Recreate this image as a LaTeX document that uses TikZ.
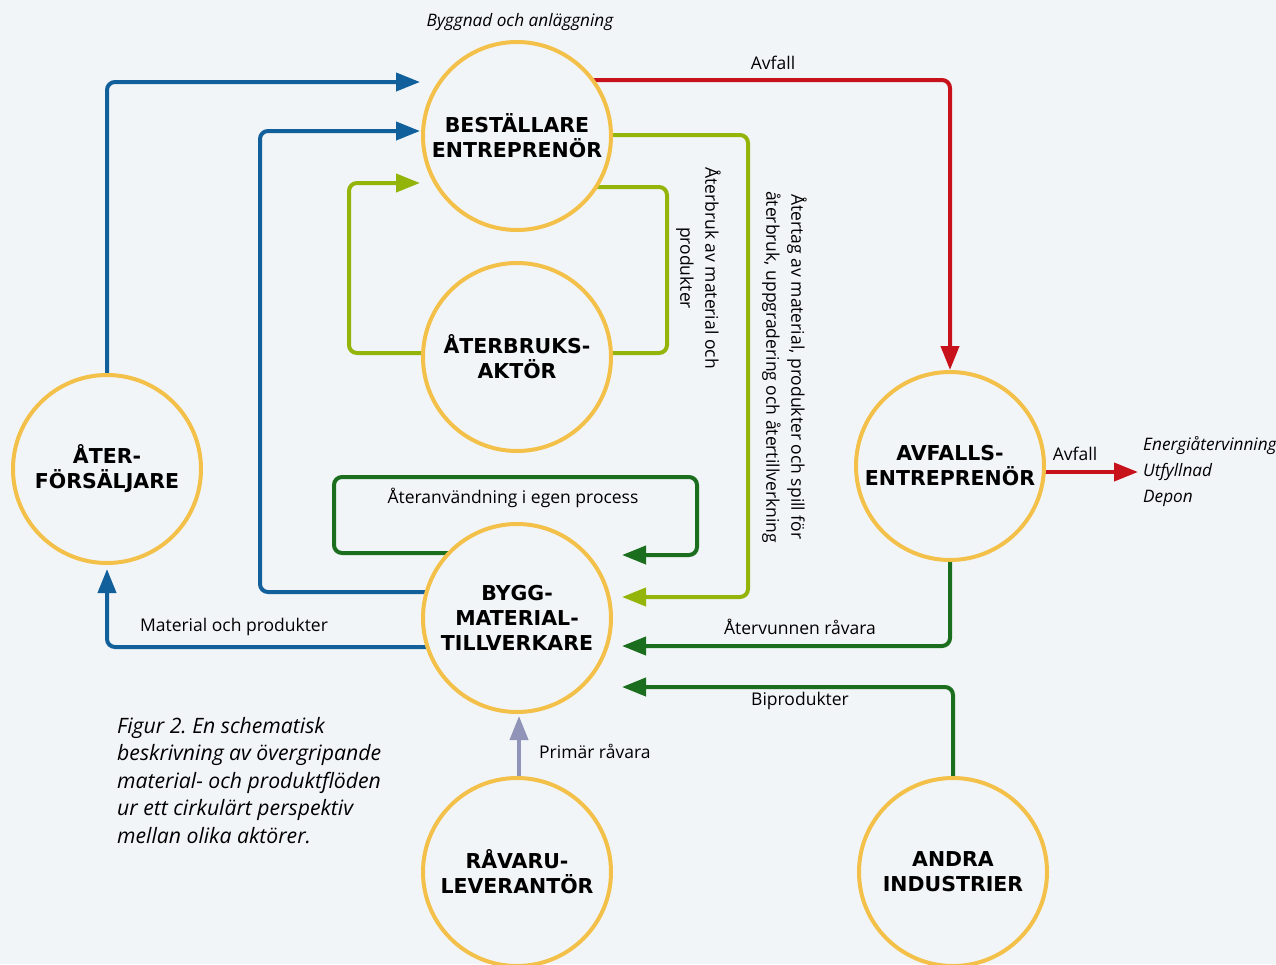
\documentclass[tikz,border=0pt]{standalone}
\usepackage{fontspec}
\setmainfont{Open Sans}
\newfontfamily\titlefont{DejaVu Sans}
\usetikzlibrary{arrows.meta,backgrounds}
\frenchspacing
\definecolor{bgc}{HTML}{F2F5F8}
\definecolor{ring}{HTML}{F3C04A}
\definecolor{cblue}{HTML}{11609B}
\definecolor{cred}{HTML}{C8121B}
\definecolor{clgreen}{HTML}{93B50A}
\definecolor{cdgreen}{HTML}{1B6E1E}
\definecolor{cgray}{HTML}{9094B8}
\tikzset{
  actor/.style={circle, draw=ring, line width=4pt, fill=bgc, minimum size=188pt, inner sep=0pt,
    align=center, font=\titlefont\bfseries\fontsize{20.5}{25}\selectfont},
  flow/.style={line width=4pt, rounded corners=8pt},
  tip/.style={-{Triangle[length=24pt,width=18pt]}},
  lbl/.style={font=\fontsize{17.5}{20}\selectfont, inner sep=0pt},
  itl/.style={font=\itshape\fontsize{17.2}{20}\selectfont, inner sep=0pt},
}
\begin{document}
\begin{tikzpicture}[x=1pt,y=-1pt]
\useasboundingbox (0,0) rectangle (1276,964);
% actors
\node[actor] (bes) at (517,136) {BESTÄLLARE\\ENTREPRENÖR};
\node[actor] (aat) at (517,357) {ÅTERBRUKS-\\AKTÖR};
\node[actor] (byg) at (517,618) {BYGG-\\MATERIAL-\\TILLVERKARE};
\node[actor] (rav) at (517,872) {RÅVARU-\\LEVERANTÖR};
\node[actor] (and) at (953,872) {ANDRA\\INDUSTRIER};
\node[actor] (avf) at (950,466) {AVFALLS-\\ENTREPRENÖR};
\node[actor] (fs)  at (107,469) {ÅTER-\\FÖRSÄLJARE};
% end points
\coordinate (t1) at (420,82);
\coordinate (t2) at (420,131);
\coordinate (t3) at (420,183);
\coordinate (t4) at (622,555);
\coordinate (t5) at (622,597);
\coordinate (t6) at (622,646);
\coordinate (t7) at (622,687);
\coordinate (t8) at (519,716);
\coordinate (t9) at (1138,472);
\begin{scope}[on background layer]
\fill[bgc] (0,0) rectangle (1276,964);
% blue
\draw[flow,tip,draw=cblue] (fs.north) |- (t1);
\draw[flow,tip,draw=cblue] (byg.center |- 0,592) -| (260,131) -- (t2);
\draw[flow,tip,draw=cblue] (byg.center |- 0,647) -| ([yshift=-4pt]fs.south);
% red
\draw[flow,tip,draw=cred] (bes.center |- 0,80) -| (avf.north);
\draw[flow,tip,draw=cred] (avf.center |- 0,472) -- (t9);
% light green
\draw[flow,tip,draw=clgreen] (bes.center |- 0,135) -| (748,597) -- (t5);
\draw[flow,tip,draw=clgreen] (aat.center |- 0,353) -| (349,183) -- (t3);
\draw[flow,draw=clgreen] (aat.center |- 0,353) -| (667,187) -- (bes.center |- 0,187);
% dark green
\draw[flow,tip,draw=cdgreen] (byg.center |- 0,553) -| (334,477) -| (697,555) -- (t4);
\draw[flow,tip,draw=cdgreen] (avf.south) |- (t6);
\draw[flow,tip,draw=cdgreen] (and.north) |- (t7);
% gray
\draw[flow,tip,draw=cgray] (rav.center -| t8) -- (t8);
\end{scope}
% labels
\node[itl] (top) at (520,22) {Byggnad och anläggning};
\node[lbl] (l1) at (773,63) {Avfall};
\node[lbl] (l2) at (1075,454) {Avfall};
\node[lbl] (l3) at (234,627) {Material och produkter};
\node[lbl] (l4) at (800,627) {Återvunnen råvara};
\node[lbl] (l5) at (800,701) {Biprodukter};
\node[lbl,anchor=west] (l6) at (539,751) {Primär råvara};
\node[lbl] (l7) at (513,498) {Återanvändning i egen process};
\node[lbl,rotate=-90,align=center,font=\fontsize{17.5}{25}\selectfont] (r1) at (698.5,268)
  {Återbruk av material och\\produkter};
\node[lbl,rotate=-90,align=center,font=\fontsize{17.5}{25}\selectfont] (r2) at (784.5,367)
  {Återtag av material, produkter och spill för\\återbruk, uppgradering och återtillverkning};
\node[itl,anchor=west] (e1) at (1143,446) {Energiåtervinning};
\node[itl,anchor=west] (e2) at (1143,472) {Utfyllnad};
\node[itl,anchor=west] (e3) at (1143,498) {Depon};
\node[anchor=north west,align=left,inner sep=0pt,font=\itshape\fontsize{21.2}{27.5}\selectfont] (cap) at (117,717)
  {Figur 2. En schematisk\\beskrivning av övergripande\\material- och produktflöden\\ur ett cirkulärt perspektiv\\mellan olika aktörer.};
\end{tikzpicture}
\end{document}
